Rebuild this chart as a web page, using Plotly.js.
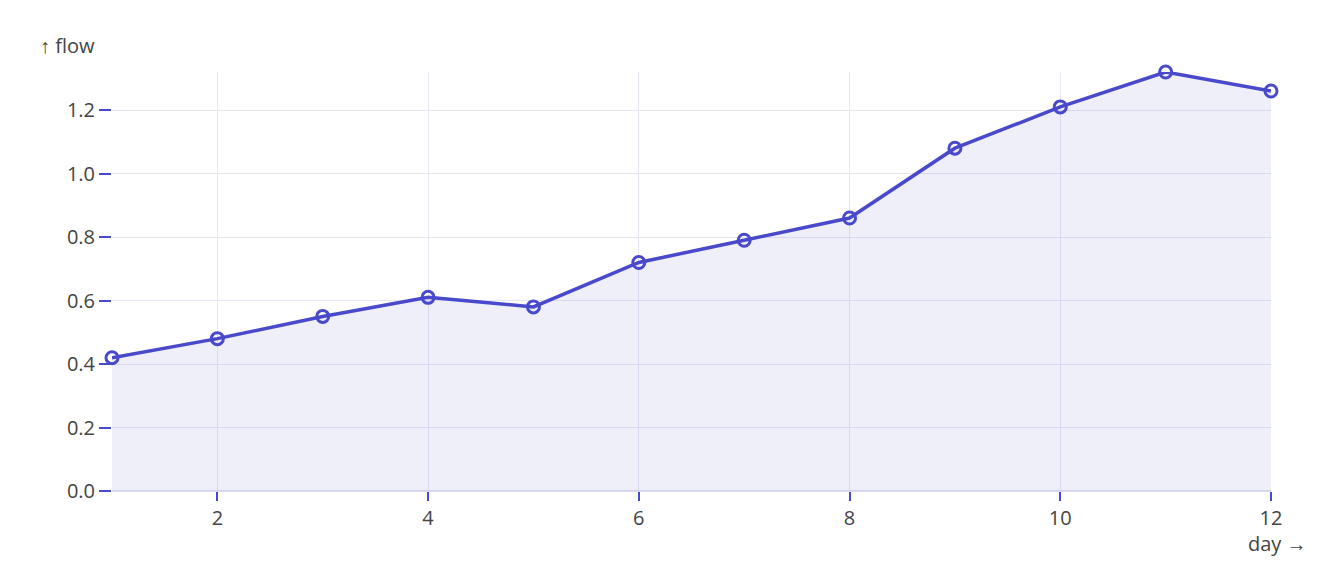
<!DOCTYPE html>
<html><head><meta charset="utf-8">
<script src="https://cdn.plot.ly/plotly-3.0.1.min.js"></script>
<style>body{margin:0;padding:0;background:#fff}#chart{width:1344px;height:584px}</style>
</head><body><div id="chart"></div>
<script>
const days = [1,2,3,4,5,6,7,8,9,10,11,12];
const flow = [0.42,0.48,0.55,0.61,0.58,0.72,0.79,0.86,1.08,1.21,1.32,1.26];
const xTicks = [2,4,6,8,10,12];
const yTicks = [0,0.2,0.4,0.6,0.8,1.0,1.2];
const lineColor = '#4949cc';
const trace = {
  x: days, y: flow, type: 'scatter', mode: 'lines+markers',
  fill: 'tozeroy', fillcolor: 'rgba(73,73,204,0.09)',
  line: {color: lineColor, width: 3.5},
  marker: {symbol: 'circle-open', size: 12, color: lineColor, line: {width: 3, color: lineColor}},
  cliponaxis: false
};
const layout = {
  width: 1344, height: 584,
  margin: {l: 112, r: 73, t: 72, b: 93},
  paper_bgcolor: '#fff', plot_bgcolor: '#fff',
  font: {family: 'Open Sans, sans-serif', size: 20, color: '#444'},
  showlegend: false,
  xaxis: {
    range: [1, 12], tickvals: xTicks, ticktext: xTicks.map(String),
    ticks: 'outside', ticklen: 9, tickwidth: 2, tickcolor: lineColor,
    showgrid: true, gridcolor: '#e6e6f6', gridwidth: 1,
    zeroline: false, showline: false, fixedrange: true
  },
  yaxis: {
    range: [0, 1.32], tickvals: yTicks, ticktext: yTicks.map(v => v.toFixed(1)),
    ticks: 'outside', ticklen: 12, tickwidth: 2, tickcolor: lineColor,
    showgrid: true, gridcolor: '#e6e6f6', gridwidth: 1,
    zeroline: true, zerolinecolor: '#dcdcf2', zerolinewidth: 2,
    showline: false, fixedrange: true
  },
  annotations: [
    {text: '↑ flow', xref: 'paper', yref: 'paper', x: -0.0638, y: 1.064, xanchor: 'left', yanchor: 'middle', showarrow: false, font: {size: 20, color: '#444'}},
    {text: 'day →', xref: 'paper', yref: 'paper', x: 1.0318, y: -0.125, xanchor: 'right', yanchor: 'middle', showarrow: false, borderpad: 0, font: {size: 20, color: '#444'}}
  ]
};
Plotly.newPlot('chart', [trace], layout, {displayModeBar: false, staticPlot: true});
</script></body></html>
